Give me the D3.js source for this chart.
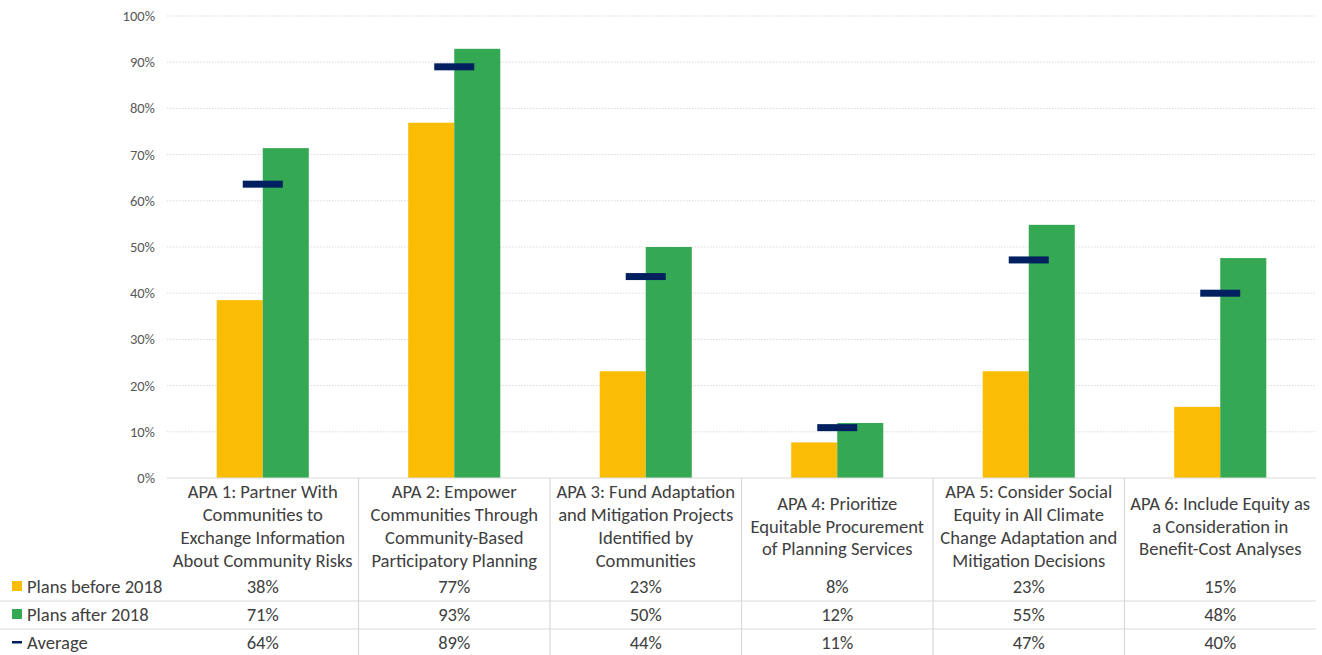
<!DOCTYPE html>
<html><head><meta charset="utf-8">
<script src="https://cdn.jsdelivr.net/npm/d3@7"></script>
<style>
body{margin:0;background:#fff;}
text{font-family:Carlito,Lato,"Liberation Sans",sans-serif;}
</style></head>
<body><svg id="c" width="1322" height="655"></svg>
<script>
const categories=["APA 1","APA 2","APA 3","APA 4","APA 5","APA 6"];
const categoryLines=[
 ["APA 1: Partner With","Communities to","Exchange Information","About Community Risks"],
 ["APA 2: Empower","Communities Through","Community-Based","Participatory Planning"],
 ["APA 3: Fund Adaptation","and Mitigation Projects","Identified by","Communities"],
 ["APA 4: Prioritize","Equitable Procurement","of Planning Services"],
 ["APA 5: Consider Social","Equity in All Climate","Change Adaptation and","Mitigation Decisions"],
 ["APA 6: Include Equity as","a Consideration in","Benefit-Cost Analyses"]
];
const before2018=[38.5,76.9,23.1,7.7,23.1,15.4];
const after2018=[71.4,92.9,50.0,11.9,54.8,47.6];
const average=[63.6,89.0,43.6,10.9,47.2,40.0];
const beforeLabels=["38%","77%","23%","8%","23%","15%"];
const afterLabels=["71%","93%","50%","12%","55%","48%"];
const averageLabels=["64%","89%","44%","11%","47%","40%"];
const yTicks=[0,10,20,30,40,50,60,70,80,90,100];
const seriesNames=["Plans before 2018","Plans after 2018","Average"];

const svg=d3.select("#c");
const L=167,R=1316,T=16,B=478;
const x=d3.scaleBand().domain(categories).range([L,R]);
const y=d3.scaleLinear().domain([0,100]).range([B,T]);
const inner=d3.scaleBand().domain(["b","a"]).range([0,x.bandwidth()]).paddingInner(0).paddingOuter(1.08);
const cYellow="#FBBC04",cGreen="#34A853",cNavy="#002060",txt="#404040";
const fs=18.6;

// gridlines
svg.append("g").selectAll("line").data(yTicks.filter(d=>d>0)).join("line")
 .attr("x1",L).attr("x2",R).attr("y1",d=>y(d)).attr("y2",d=>y(d))
 .attr("stroke","#d9d9d9").attr("stroke-width",1).attr("stroke-dasharray","1.5,1.5");
// y tick labels
svg.append("g").selectAll("text").data(yTicks).join("text")
 .attr("x",155).attr("y",d=>y(d)).attr("dy","0.35em").attr("text-anchor","end")
 .attr("font-size",14.5).attr("fill","#595959").text(d=>d+"%");

// bars
const gb=svg.append("g");
gb.selectAll(".b").data(categories).join("rect")
 .attr("x",(c)=>x(c)+inner("b")).attr("width",inner.bandwidth())
 .attr("y",(c,i)=>y(before2018[i])).attr("height",(c,i)=>B-y(before2018[i])).attr("fill",cYellow);
gb.selectAll(".a").data(categories).join("rect")
 .attr("x",(c)=>x(c)+inner("a")).attr("width",inner.bandwidth())
 .attr("y",(c,i)=>y(after2018[i])).attr("height",(c,i)=>B-y(after2018[i])).attr("fill",cGreen);
// average markers
gb.selectAll(".m").data(categories).join("rect")
 .attr("x",c=>x(c)+x.bandwidth()/2-20).attr("width",40)
 .attr("y",(c,i)=>y(average[i])-3.5).attr("height",7).attr("fill",cNavy);

// axis line
svg.append("line").attr("x1",L).attr("x2",R).attr("y1",B).attr("y2",B).attr("stroke","#d9d9d9").attr("stroke-width",1.2);

// table lines
[601,629].forEach(yy=>svg.append("line").attr("x1",0).attr("x2",R).attr("y1",yy).attr("y2",yy).attr("stroke","#d9d9d9").attr("stroke-width",1.2));
svg.append("g").selectAll("line").data(categories.slice(1)).join("line")
 .attr("x1",c=>x(c)).attr("x2",c=>x(c)).attr("y1",B).attr("y2",655).attr("stroke","#d9d9d9").attr("stroke-width",1.2);

// category labels
const lh=22.7;
categories.forEach((c,i)=>{
 const lines=categoryLines[i];
 const y0=526-(lines.length-1)*lh/2;
 const t=svg.append("text").attr("text-anchor","middle").attr("font-size",fs).attr("fill",txt);
 lines.forEach((s,j)=>t.append("tspan").attr("x",x(c)+x.bandwidth()/2).attr("y",y0+j*lh).attr("dy","0.35em").text(s));
});
// value rows
const rows=[[beforeLabels,586],[afterLabels,614],[averageLabels,642]];
rows.forEach(([labs,yy])=>{
 svg.append("g").selectAll("text").data(categories).join("text")
  .attr("x",c=>x(c)+x.bandwidth()/2).attr("y",yy).attr("dy","0.35em").attr("text-anchor","middle")
  .attr("font-size",fs).attr("fill",txt).text((c,i)=>labs[i]);
});
// legend keys
svg.append("rect").attr("x",12).attr("y",581).attr("width",10).attr("height",10).attr("fill",cYellow);
svg.append("rect").attr("x",12).attr("y",609).attr("width",10).attr("height",10).attr("fill",cGreen);
svg.append("rect").attr("x",12).attr("y",641).attr("width",10).attr("height",2.5).attr("fill",cNavy);
[586,614,642].forEach((yy,i)=>svg.append("text").attr("x",27).attr("y",yy).attr("dy","0.35em")
 .attr("font-size",fs).attr("fill",txt).text(seriesNames[i]));
</script></body></html>
